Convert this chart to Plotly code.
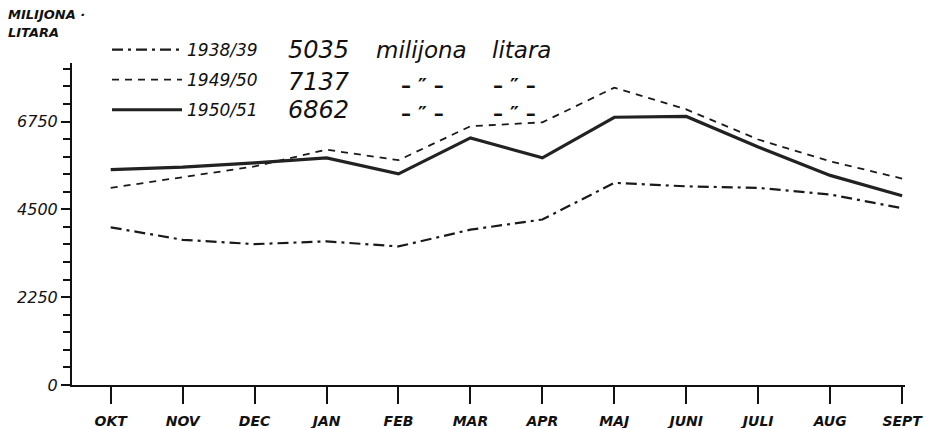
import plotly.graph_objects as go

months = ["OKT", "NOV", "DEC", "JAN", "FEB", "MAR", "APR", "MAJ", "JUNI", "JULI", "AUG", "SEPT"]
s1938 = [4040, 3720, 3610, 3680, 3550, 3980, 4240, 5180, 5090, 5050, 4880, 4530]
s1949 = [5050, 5330, 5600, 6030, 5760, 6630, 6730, 7620, 7060, 6290, 5730, 5290]
s1950 = [5520, 5580, 5690, 5820, 5410, 6330, 5820, 6860, 6880, 6100, 5370, 4850]
names = ["1938/39", "1949/50", "1950/51"]
totals = ["5035", "7137", "6862"]
yticks = [0, 2250, 4500, 6750]

# plot-area geometry (pixels)
L, R, T, B = 72, 905, 63, 385
W, H = 929, 428
def px(x):
    return (x - L) / (R - L)
def py(y):
    return (B - y) / (B - T)

HAND = "DejaVu Sans"
x = list(range(len(months)))

fig = go.Figure()
styles = [
    dict(color="#1a1a1a", width=2.2, dash="11px,5px,3px,5px"),
    dict(color="#1a1a1a", width=1.8, dash="7px,6px"),
    dict(color="#222222", width=3.2, dash="solid"),
]
for nm, ys, st, g in zip(names, [s1938, s1949, s1950], styles, ["a", "b", "c"]):
    fig.add_trace(go.Scatter(x=x, y=ys, mode="lines", name=nm, line=st,
                             legendgroup=g))

ann = []
ann.append(dict(text="MILIJONA ·", x=px(6), y=py(15), xanchor="left", yanchor="middle",
                font=dict(family=HAND, size=13, color="#111", style="italic", weight="bold")))
ann.append(dict(text="LITARA", x=px(6), y=py(33), xanchor="left", yanchor="middle",
                font=dict(family=HAND, size=13, color="#111", style="italic", weight="bold")))
rows = [50, 82, 110]
for t, ry in zip(totals, rows):
    ann.append(dict(text=t, x=px(286), y=py(ry), xanchor="left", yanchor="middle",
                    font=dict(family=HAND, size=24, color="#111", style="italic")))
ann.append(dict(text="milijona", x=px(374), y=py(rows[0]), xanchor="left", yanchor="middle",
                font=dict(family=HAND, size=23, color="#111", style="italic")))
ann.append(dict(text="litara", x=px(490), y=py(rows[0]), xanchor="left", yanchor="middle",
                font=dict(family=HAND, size=23, color="#111", style="italic")))
for ry in rows[1:]:
    for cx in (422, 514):
        ann.append(dict(text="\u2013 \u2033 \u2013", x=px(cx), y=py(ry + 3), xanchor="center", yanchor="middle",
                        font=dict(family=HAND, size=20, color="#111", weight="bold")))
for a in ann:
    a.update(xref="paper", yref="paper", showarrow=False)

fig.update_layout(
    width=W, height=H,
    margin=dict(l=L, r=W - R, t=T, b=H - B, autoexpand=False),
    paper_bgcolor="white", plot_bgcolor="white",
    showlegend=True,
    legend=dict(x=px(107), y=py(32), xanchor="left", yanchor="top",
                bgcolor="rgba(0,0,0,0)", traceorder="grouped", tracegroupgap=5,
                itemwidth=70,
                font=dict(family=HAND, size=17, color="#111", style="italic")),
    annotations=ann,
    xaxis=dict(range=[-0.538, 11.04], tickmode="array", tickvals=x, ticktext=months,
               automargin=False,
               showgrid=False, zeroline=False, showline=True, linecolor="#111", linewidth=2,
               ticks="outside", ticklen=17, tickwidth=1.5, tickcolor="#111",
               ticklabelstandoff=5,
               tickfont=dict(family=HAND, size=14, color="#111", style="italic", weight="bold")),
    yaxis=dict(range=[0, 8250], tickmode="array", tickvals=yticks,
               automargin=False,
               showgrid=False, zeroline=False, showline=True, linecolor="#111", linewidth=2,
               ticks="outside", ticklen=9, tickwidth=1.5, tickcolor="#111",
               minor=dict(dtick=450, tick0=0, ticks="outside", ticklen=7, tickwidth=1.5,
                          tickcolor="#111", showgrid=False),
               tickfont=dict(family=HAND, size=16, color="#111", style="italic")),
)

fig.write_html("out.html", config={"displayModeBar": False},
               post_script="document.body.style.margin='0';document.body.style.overflow='hidden';")
